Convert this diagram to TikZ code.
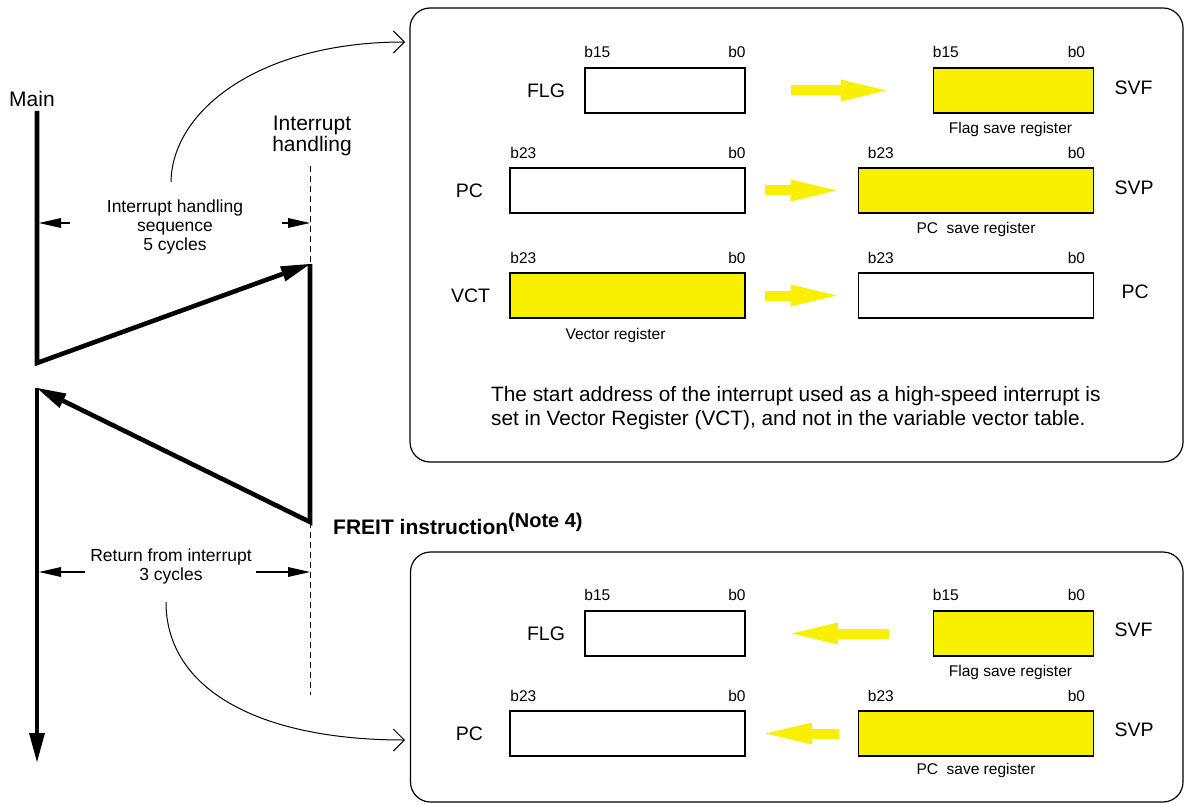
\documentclass[tikz,border=0pt]{standalone}
\usepackage{fontspec}
\setmainfont{Liberation Sans}
\usepackage{tikz}
\usetikzlibrary{arrows.meta,positioning}
\definecolor{regyellow}{HTML}{F8F000}
\newcommand{\pxsize}[2]{\fontsize{#1}{#2}\selectfont}

\begin{document}
\begin{tikzpicture}[x=1pt,y=-1pt,
  panel/.style={draw,line width=1.2pt,rounded corners=20pt,inner sep=0pt},
  reg/.style={draw,line width=1.6pt,minimum height=45pt,inner sep=0pt},
  short/.style={reg,minimum width=160pt},
  long/.style={reg,minimum width=235pt},
  saved/.style={fill=regyellow},
  regname/.style={font=\pxsize{19.5}{23},inner sep=0pt},
  bit/.style={font=\pxsize{15.5}{18},inner sep=0pt},
  caption/.style={font=\pxsize{15.5}{18},inner sep=0pt},
  yarrow/.style={draw=regyellow,line width=10pt,-{Triangle[length=46pt,width=22pt,line width=0pt]}},
  flow/.style={line width=4.6pt,-{Triangle[length=29pt,width=16pt,line width=0pt]}},
  span/.style={line width=1.2pt,-{Triangle[length=22pt,width=10pt,line width=0pt]}},
  handler/.style={line width=1pt,dash pattern=on 6pt off 4pt},
  jump/.style={line width=1pt,-{Straight Barb[length=11pt,width=22pt]}},
  dimtext/.style={font=\pxsize{17.5}{19},align=center,inner sep=0pt}
]
\useasboundingbox (0,0) rectangle (1186,805);

% time line of main program and handler
\node[regname,font=\pxsize{21}{23}] (main) at (32,99) {Main};
\node[regname,align=center,font=\pxsize{21}{21.5}] (handling) at (312,136) {Interrupt\\handling};
\coordinate (mtop) at (37,111);
\coordinate (mlow) at (37,363);
\coordinate (htop) at (310,264);
\coordinate (hlow) at (310,522);
\coordinate (mback) at (37,388);
\coordinate (mend) at (37,762);
\coordinate (dtop) at (310,166);
\coordinate (dbot) at (310,695);
\draw[flow,line join=miter] (mtop) -- (mlow) -- (htop);
\draw[flow,line join=miter] (htop) -- (hlow) -- (mback);
\draw[flow] (mback) -- (mend);
\draw[handler] (dtop) -- (htop);
\draw[handler] (hlow) -- (dbot);

\node[dimtext] (seqtext) at (175,227) {Interrupt handling\\sequence\\5 cycles};
\coordinate (seqL) at (70,223);
\coordinate (seqR) at (282,223);
\draw[span,shorten >=2pt] (seqL) -- (seqL -| mtop);
\draw[span] (seqR) -- (seqR -| htop);
\node[dimtext] (rettext) at (171,566) {Return from interrupt\\3 cycles};
\coordinate (retL) at (85,572);
\coordinate (retR) at (256,572);
\draw[span,shorten >=2pt] (retL) -- (retL -| mtop);
\draw[span] (retR) -- (retR -| htop);

\node[anchor=west,inner sep=0pt,font=\bfseries\pxsize{21}{24}] (freit) at (333,524)
  {FREIT instruction\raisebox{7pt}{\pxsize{20}{22}(Note 4)}};

% save on entry
\node[panel,minimum width=773pt,minimum height=454pt] (savebox) at (796.5,235) {};
\coordinate (seqtop) at (171,182);
\coordinate (savein) at (405,42);
\draw[jump] (seqtop) .. controls (172,110) and (260,42) .. (savein);

\node[short] (flgA) at (665,90.5) {};
\node[short,saved] (svfA) at (1013.5,90.5) {};
\node[long] (pcA) at (627.5,190.5) {};
\node[long,saved] (svpA) at (976,190.5) {};
\node[long,saved] (vctA) at (627.5,295.5) {};
\node[long] (pcC) at (976,295.5) {};

\node[regname,left=19pt of flgA] (flgAname) {FLG};
\node[regname,right=20pt of svfA,yshift=3pt] (svfAname) {SVF};
\node[regname,left=26pt of pcA] (pcAname) {PC};
\node[regname,right=20pt of svpA,yshift=3pt] (svpAname) {SVP};
\node[regname,left=19pt of vctA] (vctAname) {VCT};
\node[regname,right=27pt of pcC,yshift=4pt] (pcCname) {PC};

\node[bit,above right=9pt and 0pt of flgA.north west] {b15};
\node[bit,above left=9pt and 0pt of flgA.north east] {b0};
\node[bit,above right=9pt and 0pt of svfA.north west] {b15};
\node[bit,above left=9pt and 9pt of svfA.north east] {b0};
\node[bit,above right=8pt and 1pt of pcA.north west] {b23};
\node[bit,above left=8pt and 0pt of pcA.north east] {b0};
\node[bit,above right=8pt and 10pt of svpA.north west] {b23};
\node[bit,above left=8pt and 9pt of svpA.north east] {b0};
\node[bit,above right=8pt and 1pt of vctA.north west] {b23};
\node[bit,above left=8pt and 0pt of vctA.north east] {b0};
\node[bit,above right=8pt and 10pt of pcC.north west] {b23};
\node[bit,above left=8pt and 9pt of pcC.north east] {b0};

\node[caption,below=8pt of svfA,xshift=-3pt] {Flag save register};
\node[caption,below=8pt of svpA] {PC\ \ save register};
\node[caption,below=9pt of vctA,xshift=-12pt] {Vector register};

\draw[yarrow,shorten <=45pt,shorten >=46pt] (flgA) -- (svfA);
\draw[yarrow,shorten <=19pt,shorten >=21pt] (pcA) -- (svpA);
\draw[yarrow,shorten <=19pt,shorten >=21pt] (vctA) -- (pcC);

\node[anchor=west,align=left,inner sep=0pt,font=\pxsize{20.8}{24}] (note) at (491,408)
  {The start address of the interrupt used as a high-speed interrupt is\\
   set in Vector Register (VCT), and not in the variable vector table.};

% restore on return
\node[panel,minimum width=772.5pt,minimum height=250pt] (restbox) at (796.75,677) {};
\coordinate (retbot) at (166,602);
\coordinate (restin) at (405,740);
\draw[jump] (retbot) .. controls (166,690) and (260,740) .. (restin);

\node[short] (flgB) at (665,633.5) {};
\node[short,saved] (svfB) at (1013.5,633.5) {};
\node[long] (pcB) at (627.5,733.5) {};
\node[long,saved] (svpB) at (976,733.5) {};

\node[regname,left=19pt of flgB] (flgBname) {FLG};
\node[regname,right=20pt of svfB,yshift=4pt] (svfBname) {SVF};
\node[regname,left=26pt of pcB] (pcBname) {PC};
\node[regname,right=20pt of svpB,yshift=4pt] (svpBname) {SVP};

\node[bit,above right=9pt and 0pt of flgB.north west] {b15};
\node[bit,above left=9pt and 0pt of flgB.north east] {b0};
\node[bit,above right=9pt and 0pt of svfB.north west] {b15};
\node[bit,above left=9pt and 9pt of svfB.north east] {b0};
\node[bit,above right=8pt and 1pt of pcB.north west] {b23};
\node[bit,above left=8pt and 0pt of pcB.north east] {b0};
\node[bit,above right=8pt and 10pt of svpB.north west] {b23};
\node[bit,above left=8pt and 9pt of svpB.north east] {b0};

\node[caption,below=8pt of svfB,xshift=-3pt] {Flag save register};
\node[caption,below=6pt of svpB] {PC\ \ save register};

\draw[yarrow,shorten <=44pt,shorten >=46pt] (svfB) -- (flgB);
\draw[yarrow,shorten <=19pt,shorten >=20pt] (svpB) -- (pcB);
\end{tikzpicture}
\end{document}
